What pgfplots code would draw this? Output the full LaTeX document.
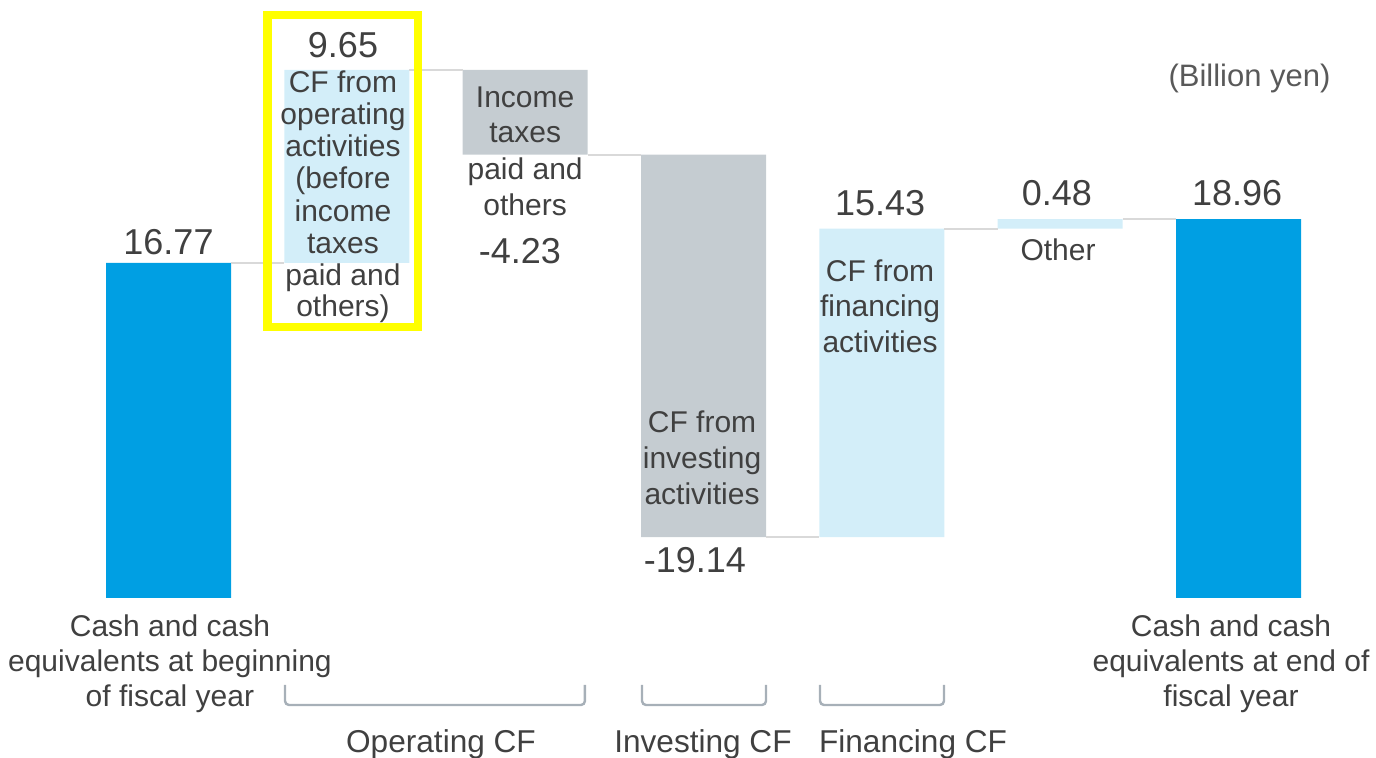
\documentclass[border=0pt]{standalone}
\usepackage{pgfplots}
\pgfplotsset{compat=1.18}
\usepackage{fontspec}
\setmainfont{Liberation Sans}
\definecolor{cblue}{HTML}{009FE3}
\definecolor{clight}{HTML}{D3EEF9}
\definecolor{cgray}{HTML}{C5CCD1}
\definecolor{ctext}{HTML}{404040}
\definecolor{cconn}{HTML}{D9D9D9}
\definecolor{cbrack}{HTML}{A7B0B8}
\definecolor{cunit}{HTML}{595959}
\pgfplotsset{wf/.style={
  at={(84.25pt,80pt)}, anchor=south west,
  x=89.1667pt, y=9.9925pt,
  xmin=0, xmax=6, ymin=0, ymax=27,
  hide axis, clip=false,
}}
\tikzset{
  lbl/.style={anchor=base, font=\fontsize{15}{18}\selectfont, text=ctext, inner sep=0pt},
  val/.style={anchor=base, font=\fontsize{18}{21}\selectfont, text=ctext, inner sep=0pt},
  cat/.style={anchor=base, font=\fontsize{15.8}{19}\selectfont, text=ctext, inner sep=0pt},
}
\begin{document}
\begin{tikzpicture}
\begin{axis}[wf, ybar stacked, bar width=62.5pt]
% invisible base
\addplot[draw=none, fill=none, forget plot] coordinates {(0,0)(1,16.77)(2,22.19)(3,3.05)(4,3.05)(5,18.48)(6,0)};
% cash balances
\addplot[draw=none, fill=cblue] coordinates {(0,16.77)(1,0)(2,0)(3,0)(4,0)(5,0)(6,18.96)};
% increases
\addplot[draw=none, fill=clight] coordinates {(0,0)(1,9.65)(2,0)(3,0)(4,15.43)(5,0.48)(6,0)};
% decreases
\addplot[draw=none, fill=cgray] coordinates {(0,0)(1,0)(2,4.23)(3,19.14)(4,0)(5,0)(6,0)};
\end{axis}
\begin{axis}[wf]
% connectors
\addplot[cconn, line width=1pt, no marks] coordinates {(0.35,16.77)(0.65,16.77)};
\addplot[cconn, line width=1pt, no marks] coordinates {(1.35,26.42)(1.65,26.42)};
\addplot[cconn, line width=1pt, no marks] coordinates {(2.35,22.19)(2.65,22.19)};
\addplot[cconn, line width=1pt, no marks] coordinates {(3.35,3.05)(3.65,3.05)};
\addplot[cconn, line width=1pt, no marks] coordinates {(4.35,18.48)(4.65,18.48)};
\addplot[cconn, line width=1pt, no marks] coordinates {(5.35,18.96)(5.65,18.96)};
% highlight box
\draw[draw={rgb,255:red,255;green,255;blue,0}, line width=4.25pt] (axis cs:0.5551,13.56) rectangle (axis cs:1.399,29.17);
% brackets
\draw[cbrack, line width=1.2pt, rounded corners=2pt] (axis cs:0.6533,-4.353) -- (axis cs:0.6533,-5.354) -- (axis cs:2.3352,-5.354) -- (axis cs:2.3352,-4.353);
\draw[cbrack, line width=1.2pt, rounded corners=2pt] (axis cs:2.6552,-4.353) -- (axis cs:2.6552,-5.354) -- (axis cs:3.3505,-5.354) -- (axis cs:3.3505,-4.353);
\draw[cbrack, line width=1.2pt, rounded corners=2pt] (axis cs:3.6532,-4.353) -- (axis cs:3.6532,-5.354) -- (axis cs:4.3486,-5.354) -- (axis cs:4.3486,-4.353);
% values
\node[val] at (axis cs:0,17.163) {16.77};
\node[val] at (axis cs:0.9785,27.02) {9.65};
\node[val] at (axis cs:1.971,16.76) {-4.23};
\node[val] at (axis cs:2.952,1.251) {-19.14};
\node[val] at (axis cs:3.990,19.16) {15.43};
\node[val] at (axis cs:4.982,19.66) {0.48};
\node[val] at (axis cs:5.992,19.66) {18.96};
% bar 2 text
\node[lbl] at (axis cs:0.9785,25.27) {CF from};
\node[lbl] at (axis cs:0.9785,23.67) {operating};
\node[lbl] at (axis cs:0.9785,22.07) {activities};
\node[lbl] at (axis cs:0.9785,20.47) {(before};
\node[lbl] at (axis cs:0.9785,18.86) {income};
\node[lbl] at (axis cs:0.9785,17.26) {taxes};
\node[lbl] at (axis cs:0.9785,15.66) {paid and};
\node[lbl] at (axis cs:0.9785,14.06) {others)};
% bar 3 text
\node[lbl] at (axis cs:2.0,24.52) {Income};
\node[lbl] at (axis cs:2.0,22.77) {taxes};
\node[lbl] at (axis cs:2.0,20.92) {paid and};
\node[lbl] at (axis cs:2.0,19.16) {others};
% bar 4 text
\node[lbl] at (axis cs:2.992,8.256) {CF from};
\node[lbl] at (axis cs:2.992,6.455) {investing};
\node[lbl] at (axis cs:2.992,4.654) {activities};
% bar 5 text
\node[lbl] at (axis cs:3.990,15.86) {CF from};
\node[lbl] at (axis cs:3.990,14.06) {financing};
\node[lbl] at (axis cs:3.990,12.26) {activities};
% bar 6 text
\node[lbl] at (axis cs:4.988,16.91) {Other};
% bottom labels
\node[lbl] at (axis cs:0.008,-1.951) {Cash and cash};
\node[lbl] at (axis cs:0.008,-3.703) {equivalents at beginning};
\node[lbl] at (axis cs:0.008,-5.454) {of fiscal year};
\node[lbl] at (axis cs:5.958,-1.951) {Cash and cash};
\node[lbl] at (axis cs:5.958,-3.703) {equivalents at end of};
\node[lbl] at (axis cs:5.958,-5.454) {fiscal year};
% category labels
\node[cat] at (axis cs:1.528,-7.756) {Operating CF};
\node[cat] at (axis cs:2.997,-7.756) {Investing CF};
\node[cat] at (axis cs:4.175,-7.756) {Financing CF};
% unit
\node[anchor=base, font=\fontsize{15.5}{19}\selectfont, text=cunit, inner sep=0pt] at (axis cs:6.062,25.57) {(Billion yen)};
\end{axis}
\pgfresetboundingbox
\path[use as bounding box] (0,0) rectangle (688pt,379pt);
\end{tikzpicture}
\end{document}
